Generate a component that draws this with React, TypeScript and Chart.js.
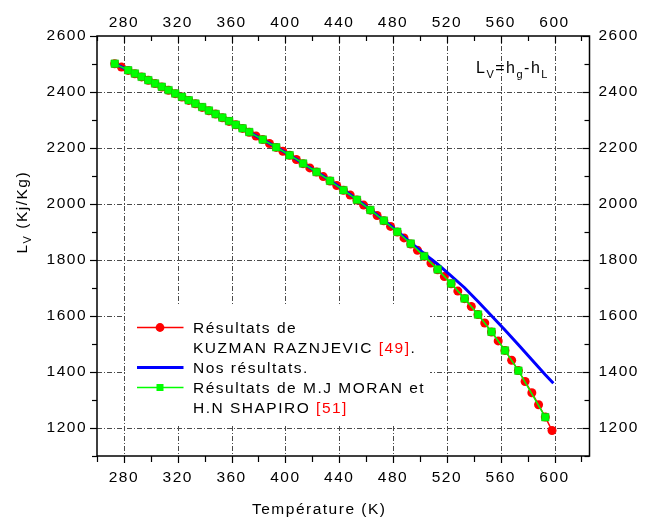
import React, { useEffect, useRef } from "react";
import { Chart, registerables } from "chart.js";

Chart.register(...registerables);

// ---- Axis ticks ----
const xMajorTicks = [280, 320, 360, 400, 440, 480, 520, 560, 600];
const xMinorTicks = [260, 300, 340, 380, 420, 460, 500, 540, 580, 620];
const yMajorTicks = [1200, 1400, 1600, 1800, 2000, 2200, 2400, 2600];
const yMinorTicks = [1100, 1300, 1500, 1700, 1900, 2100, 2300, 2500];

// ---- Résultats de KUZMAN RAZNJEVIC [49] (T in K, Lv in kJ/kg) ----
const kuzmanT = [
  273.16, 278.15, 283.15, 288.15, 293.15, 298.15, 303.15, 308.15, 313.15, 318.15,
  323.15, 328.15, 333.15, 338.15, 343.15, 348.15, 353.15, 358.15, 363.15, 368.15,
  373.15, 378.15, 383.15, 388.15, 393.15, 398.15, 403.15, 408.15, 413.15, 418.15,
  423.15, 428.15, 433.15, 438.15, 443.15, 448.15, 453.15, 458.15, 463.15, 468.15,
  473.15, 478.15, 483.15, 488.15, 493.15, 498.15, 503.15, 508.15, 513.15, 518.15,
  523.15, 528.15, 533.15, 538.15, 543.15, 548.15, 553.15, 558.15, 563.15, 568.15,
  573.15, 578.15, 583.15, 588.15, 593.15, 598.15,
];
const kuzmanL = [
  2501, 2489, 2477, 2465, 2454, 2442, 2430, 2418, 2406, 2394,
  2382, 2370, 2358, 2345, 2333, 2321, 2308, 2295, 2283, 2270,
  2256, 2243, 2230, 2216, 2202, 2188, 2174, 2159, 2144, 2129,
  2114, 2098, 2082, 2066, 2049, 2032, 2014, 1996, 1978, 1959,
  1940, 1920, 1900, 1879, 1857, 1835, 1813, 1789, 1765, 1741,
  1715, 1689, 1662, 1634, 1605, 1575, 1543, 1511, 1477, 1442,
  1405, 1366, 1326, 1283, 1239, 1191,
];

// ---- Nos résultats ----
const ourT = [
  273.15, 283.15, 293.15, 303.15, 313.15, 323.15, 333.15, 343.15, 353.15, 363.15,
  373.15, 383.15, 393.15, 403.15, 413.15, 423.15, 433.15, 443.15, 453.15, 463.15,
  473.15, 483.15, 493.15, 503.15, 513.15, 523.15, 533.15, 543.15, 553.15, 563.15,
  573.15, 583.15, 593.15, 599.15,
];
const ourL = [
  2501, 2478, 2454, 2430, 2406, 2382, 2358, 2333, 2308, 2283,
  2257, 2230, 2203, 2175, 2145, 2115, 2084, 2051, 2016, 1980,
  1942, 1903, 1862, 1823, 1785, 1743, 1701, 1652, 1601, 1550,
  1497, 1444, 1390, 1360,
];

// ---- Résultats de M.J MORAN et H.N SHAPIRO [51] ----
const moranT = [
  273.16, 283.15, 288.15, 293.15, 298.15, 303.15, 308.15, 313.15, 318.15, 323.15,
  328.15, 333.15, 338.15, 343.15, 348.15, 353.15, 358.15, 363.15, 368.15, 373.15,
  383.15, 393.15, 403.15, 413.15, 423.15, 433.15, 443.15, 453.15, 463.15, 473.15,
  483.15, 493.15, 503.15, 513.15, 523.15, 533.15, 543.15, 553.15, 563.15, 573.15,
  593.15,
];
const moranL = [
  2501.3, 2477.7, 2465.9, 2454.1, 2442.3, 2430.5, 2418.6, 2406.7, 2394.8, 2382.7,
  2370.7, 2358.5, 2346.2, 2333.8, 2321.4, 2308.8, 2296.0, 2283.2, 2270.2, 2257.0,
  2230.2, 2202.6, 2174.2, 2144.7, 2114.3, 2082.6, 2049.5, 2015.0, 1978.8, 1940.7,
  1900.7, 1858.5, 1813.8, 1766.5, 1716.2, 1662.5, 1605.2, 1543.6, 1477.1, 1404.9,
  1238.6,
];

const FONT = '"Liberation Sans", Arial, Helvetica, sans-serif';
const FS = 15.5;
const LS = "1.5px";

type Part = { text: string; size: number; dy?: number; color?: string };

function richText(ctx: CanvasRenderingContext2D, x: number, y: number, parts: Part[]) {
  let cx = x;
  for (const p of parts) {
    ctx.font = `${p.size}px ${FONT}`;
    ctx.fillStyle = p.color || "#000";
    ctx.fillText(p.text, cx, y + (p.dy || 0));
    cx += ctx.measureText(p.text).width;
  }
}

function seg(ctx: CanvasRenderingContext2D, x1: number, y1: number, x2: number, y2: number) {
  ctx.beginPath();
  ctx.moveTo(x1, y1);
  ctx.lineTo(x2, y2);
  ctx.stroke();
}

const decorPlugin = {
  id: "decor",
  beforeDraw(chart: any) {
    chart.ctx.letterSpacing = LS;
  },
  beforeDatasetsDraw(chart: any) {
    const { ctx, chartArea: a, scales } = chart;
    ctx.save();
    ctx.letterSpacing = "0px";
    ctx.strokeStyle = "#4a4a4a";
    ctx.lineWidth = 1;
    ctx.setLineDash([5, 2, 1, 2]);
    for (const v of xMajorTicks) {
      const p = Math.round(scales.x.getPixelForValue(v)) + 0.5;
      seg(ctx, p, a.top, p, a.bottom);
    }
    for (const v of yMajorTicks) {
      if (v >= 2600) continue;
      const p = Math.round(scales.y.getPixelForValue(v)) + 0.5;
      seg(ctx, a.left, p, a.right, p);
    }
    ctx.restore();
  },
  afterDatasetsDraw(chart: any) {
    const { ctx, chartArea: a, scales } = chart;
    ctx.save();
    ctx.letterSpacing = LS;
    ctx.setLineDash([]);

    // legend box
    ctx.fillStyle = "#fff";
    ctx.fillRect(125, 306, 305, 118);
    // red sample
    ctx.strokeStyle = "#ff0000";
    ctx.lineWidth = 1.6;
    seg(ctx, 137, 327.5, 183.5, 327.5);
    ctx.fillStyle = "#ff0000";
    ctx.beginPath();
    ctx.arc(160, 327.5, 4.4, 0, Math.PI * 2);
    ctx.fill();
    // blue sample
    ctx.strokeStyle = "#0000ff";
    ctx.lineWidth = 3;
    seg(ctx, 137, 367.5, 183.5, 367.5);
    // green sample
    ctx.strokeStyle = "#00ff00";
    ctx.lineWidth = 1.6;
    seg(ctx, 137, 387.5, 183.5, 387.5);
    ctx.fillStyle = "#00ff00";
    ctx.fillRect(156.5, 384, 7, 7);

    ctx.textAlign = "left";
    ctx.textBaseline = "alphabetic";
    richText(ctx, 193, 332.7, [{ text: "Résultats de", size: FS }]);
    richText(ctx, 193, 353.2, [
      { text: "KUZMAN RAZNJEVIC ", size: FS },
      { text: "[49]", size: FS, color: "#ff0000" },
      { text: ".", size: FS },
    ]);
    richText(ctx, 193, 372.7, [{ text: "Nos résultats.", size: FS }]);
    richText(ctx, 193, 392.7, [{ text: "Résultats de M.J MORAN et", size: FS }]);
    richText(ctx, 193, 412.7, [
      { text: "H.N SHAPIRO ", size: FS },
      { text: "[51]", size: FS, color: "#ff0000" },
    ]);

    // annotation
    richText(ctx, 476, 73.3, [
      { text: "L", size: 16 },
      { text: "V", size: 11, dy: 5 },
      { text: "=h", size: 16 },
      { text: "g", size: 11, dy: 5 },
      { text: "-h", size: 16 },
      { text: "L", size: 11, dy: 5 },
    ]);

    // frame
    ctx.strokeStyle = "#000";
    ctx.lineWidth = 1.5;
    ctx.strokeRect(a.left, a.top, a.right - a.left, a.bottom - a.top);

    // ticks
    ctx.lineWidth = 1.2;
    for (const v of xMajorTicks) {
      const p = Math.round(scales.x.getPixelForValue(v)) + 0.5;
      seg(ctx, p, a.bottom, p, a.bottom + 7);
      seg(ctx, p, a.top, p, a.top + 7);
    }
    for (const v of xMinorTicks) {
      const p = Math.round(scales.x.getPixelForValue(v)) + 0.5;
      seg(ctx, p, a.bottom, p, a.bottom + 6);
      seg(ctx, p, a.top, p, a.top + 5);
    }
    for (const v of yMajorTicks) {
      const p = Math.round(scales.y.getPixelForValue(v)) + 0.5;
      seg(ctx, a.left - 7, p, a.left, p);
      seg(ctx, a.right - 7, p, a.right, p);
    }
    for (const v of yMinorTicks) {
      const p = Math.round(scales.y.getPixelForValue(v)) + 0.5;
      seg(ctx, a.left - 5, p, a.left, p);
      seg(ctx, a.right - 5, p, a.right, p);
    }

    // axis titles
    richText(ctx, 252, 514.3, [{ text: "Température (K)", size: FS }]);
    ctx.translate(27, 253.5);
    ctx.rotate(-Math.PI / 2);
    richText(ctx, 0, 0, [
      { text: "L", size: FS },
      { text: "V", size: 11, dy: 4 },
      { text: " (Kj/Kg)", size: FS },
    ]);
    ctx.restore();
  },
  afterDraw(chart: any) {
    chart.ctx.letterSpacing = "0px";
  },
};

function setTicks(values: number[]) {
  return (scale: any) => {
    scale.ticks = values.map((v) => ({ value: v }));
  };
}

const tickFont = { family: FONT, size: FS };

export default function App() {
  const ref = useRef<HTMLCanvasElement>(null);

  useEffect(() => {
    const toXY = (xs: number[], ys: number[]) => xs.map((x, i) => ({ x, y: ys[i] }));
    const chart = new Chart(ref.current as HTMLCanvasElement, {
      type: "line",
      data: {
        datasets: [
          {
            label: "Résultats de KUZMAN RAZNJEVIC [49].",
            data: toXY(kuzmanT, kuzmanL),
            borderColor: "#ff0000",
            borderWidth: 1.5,
            pointStyle: "circle",
            pointRadius: 4.5,
            pointBackgroundColor: "#ff0000",
            pointBorderWidth: 0,
            tension: 0,
            order: 3,
          },
          {
            label: "Nos résultats.",
            data: toXY(ourT, ourL),
            borderColor: "#0000ff",
            borderWidth: 3,
            pointRadius: 0,
            tension: 0,
            order: 2,
          },
          {
            label: "Résultats de M.J MORAN et H.N SHAPIRO [51]",
            data: toXY(moranT, moranL),
            borderColor: "#00ff00",
            borderWidth: 1.5,
            pointStyle: "rect",
            pointRadius: 5.3,
            pointBackgroundColor: "#00ff00",
            pointBorderColor: "#00d000",
            pointBorderWidth: 0.6,
            tension: 0,
            order: 1,
          },
        ],
      },
      options: {
        responsive: false,
        animation: false,
        events: [],
        layout: { padding: 0 },
        plugins: { legend: { display: false }, tooltip: { enabled: false } },
        scales: {
          x: {
            type: "linear",
            position: "bottom",
            min: 260,
            max: 626,
            grid: { display: false, drawTicks: false },
            border: { display: false },
            afterBuildTicks: setTicks(xMajorTicks),
            afterFit: (s: any) => {
              s.height = 63;
            },
            ticks: { font: tickFont, color: "#000", padding: 12, autoSkip: false, maxRotation: 0, minRotation: 0, callback: (v: any) => String(v) },
          },
          x2: {
            type: "linear",
            position: "top",
            min: 260,
            max: 626,
            grid: { display: false, drawTicks: false },
            border: { display: false },
            afterBuildTicks: setTicks(xMajorTicks),
            afterFit: (s: any) => {
              s.height = 36;
            },
            ticks: { font: tickFont, color: "#000", padding: 4, autoSkip: false, maxRotation: 0, minRotation: 0, callback: (v: any) => String(v) },
          },
          y: {
            type: "linear",
            position: "left",
            min: 1100,
            max: 2600,
            grid: { display: false, drawTicks: false },
            border: { display: false },
            afterBuildTicks: setTicks(yMajorTicks),
            afterFit: (s: any) => {
              s.width = 97;
            },
            ticks: { font: tickFont, color: "#000", padding: 10, autoSkip: false, callback: (v: any) => String(v) },
          },
          y2: {
            type: "linear",
            position: "right",
            min: 1100,
            max: 2600,
            grid: { display: false, drawTicks: false },
            border: { display: false },
            afterBuildTicks: setTicks(yMajorTicks),
            afterFit: (s: any) => {
              s.width = 59.5;
            },
            ticks: { font: tickFont, color: "#000", padding: 9, autoSkip: false, callback: (v: any) => String(v) },
          },
        },
      } as any,
      plugins: [decorPlugin as any],
    });
    return () => chart.destroy();
  }, []);

  return (
    <div style={{ position: "fixed", left: 0, top: 0, width: 649, height: 519, background: "#fff" }}>
      <canvas ref={ref} width={649} height={519} style={{ display: "block" }} />
    </div>
  );
}
